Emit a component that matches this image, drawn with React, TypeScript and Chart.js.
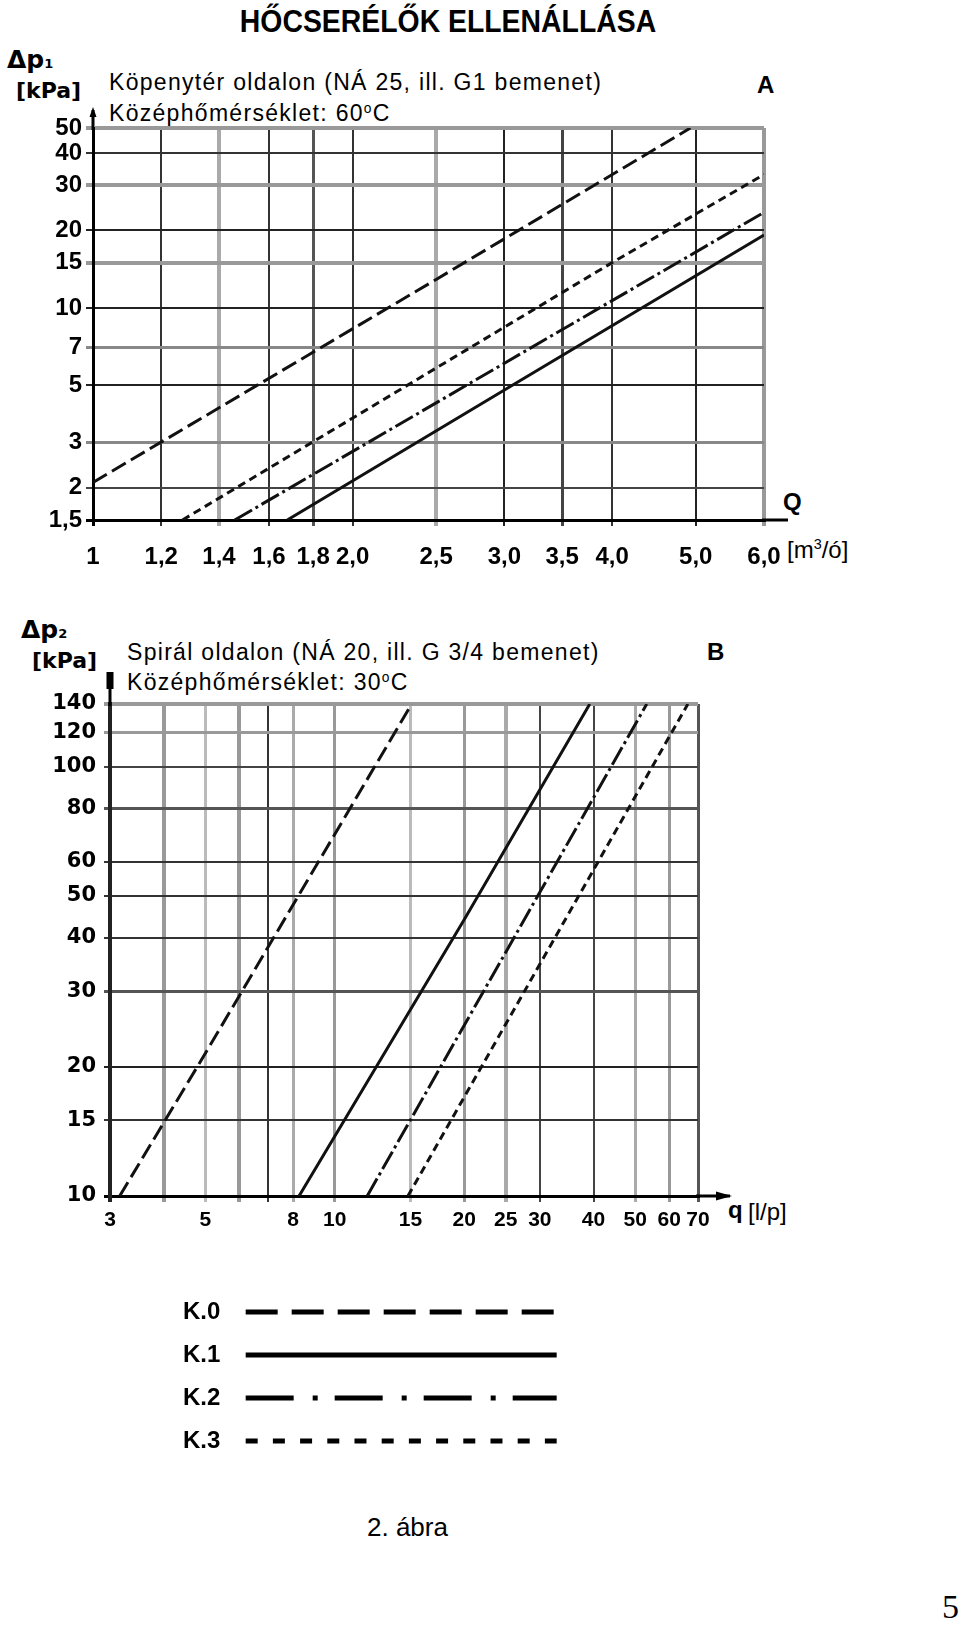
import React, { useEffect, useRef } from 'react';
import { Chart, registerables } from 'chart.js';

Chart.register(...registerables);

// ---------------- Data: chart A (Köpenytér oldalon) ----------------
const A_X_TICKS = [1, 1.2, 1.4, 1.6, 1.8, 2.0, 2.5, 3.0, 3.5, 4.0, 5.0, 6.0];
const A_X_LABELS = ['1', '1,2', '1,4', '1,6', '1,8', '2,0', '2,5', '3,0', '3,5', '4,0', '5,0', '6,0'];
const A_Y_TICKS = [1.5, 2, 3, 5, 7, 10, 15, 20, 30, 40, 50];
const A_Y_LABELS = ['1,5', '2', '3', '5', '7', '10', '15', '20', '30', '40', '50'];

const A_K0_Q = [1.0, 2.5, 4.93];
const A_K0_DP = [2.1, 12.9, 50];
const A_K3_Q = [1.27, 4.0, 6.0];
const A_K3_DP = [1.5, 15, 33];
const A_K2_Q = [1.46, 3.0, 6.0];
const A_K2_DP = [1.5, 6.1, 23.5];
const A_K1_Q = [1.68, 3.0, 6.0];
const A_K1_DP = [1.5, 4.8, 19.2];

// ---------------- Data: chart B (Spirál oldalon) ----------------
const B_X_TICKS = [3, 4, 5, 6, 7, 8, 10, 15, 20, 25, 30, 40, 50, 60, 70];
const B_X_LABELS = ['3', '', '5', '', '', '8', '10', '15', '20', '25', '30', '40', '50', '60', '70'];
const B_Y_TICKS = [10, 15, 20, 30, 40, 50, 60, 80, 100, 120, 140];
const B_Y_LABELS = ['10', '15', '20', '30', '40', '50', '60', '80', '100', '120', '140'];

const B_K0_Q = [3.16, 5.0, 15.1];
const B_K0_DP = [10, 21.5, 140];
const B_K1_Q = [8.26, 20, 39.2];
const B_K1_DP = [10, 44, 140];
const B_K2_Q = [11.9, 30, 53.2];
const B_K2_DP = [10, 51, 140];
const B_K3_Q = [14.8, 40, 66.3];
const B_K3_DP = [10, 57.5, 140];

const SERIES = ['K.0', 'K.1', 'K.2', 'K.3'];

// ---------------- Styles ----------------
const FONT_SANS = "'Liberation Sans', Arial, sans-serif";
const FONT_WIDE = "'DejaVu Sans', 'Liberation Sans', sans-serif";
const FONT_SERIF = "'Liberation Serif', 'DejaVu Serif', serif";

const DASH: Record<string, number[]> = {
  'K.0': [16, 6],
  'K.1': [],
  'K.2': [20, 4, 3, 4],
  'K.3': [8, 5],
};
const LEGEND_DASH: Record<string, number[]> = {
  'K.0': [32, 14],
  'K.1': [],
  'K.2': [48, 19, 5, 17],
  'K.3': [12, 15.2],
};

const A_XGRID_COLOR = ['#000', '#333', '#aaa', '#333', '#555', '#333', '#aaa', '#222', '#444', '#333', '#222', '#999'];
const A_XGRID_WIDTH = [3, 2, 4, 2, 3, 2, 4, 2, 3, 2, 2, 4];
const A_YGRID_COLOR = ['#000', '#444', '#888', '#222', '#888', '#222', '#999', '#222', '#999', '#333', '#999'];
const A_YGRID_WIDTH = [3, 2, 3, 2, 3, 2, 4, 2, 4, 2, 4];
const B_XGRID_COLOR = ['#222', '#999', '#bbb', '#999', '#333', '#aaa', '#999', '#bbb', '#999', '#aaa', '#444', '#444', '#aaa', '#999', '#555'];
const B_XGRID_WIDTH = [4, 4, 3, 4, 2, 3, 3, 3, 3, 4, 2, 2, 3, 3, 3];
const B_YGRID_COLOR = ['#000', '#333', '#222', '#555', '#333', '#333', '#333', '#555', '#444', '#999', '#999'];
const B_YGRID_WIDTH = [3, 2, 2, 3, 2, 2, 2, 3, 2, 3, 4];

function pts(xs: number[], ys: number[]) {
  return xs.map((x, i) => ({ x, y: ys[i] }));
}

function line(label: string, xs: number[], ys: number[]) {
  return {
    label,
    data: pts(xs, ys),
    showLine: true,
    borderColor: '#111',
    backgroundColor: '#111',
    borderWidth: 3,
    borderDash: DASH[label],
    pointRadius: 0,
    tension: 0,
  };
}

function logAxis(o: any) {
  return {
    type: 'logarithmic',
    position: o.position,
    min: o.min,
    max: o.max,
    afterBuildTicks: (s: any) => {
      s.ticks = o.ticks.map((v: number) => ({ value: v }));
    },
    afterFit: (s: any) => {
      if (o.position === 'bottom') s.height = o.size;
      else s.width = o.size;
    },
    ticks: {
      autoSkip: false,
      maxRotation: 0,
      minRotation: 0,
      padding: o.padding,
      color: '#000',
      font: o.font,
      callback: (_v: any, i: number) => o.labels[i],
    },
    grid: {
      color: (c: any) => o.colors[c.index] ?? '#333',
      lineWidth: (c: any) => o.widths[c.index] ?? 2,
      tickLength: o.tickLength,
      drawTicks: true,
    },
    border: { display: true, color: o.borderColor, width: o.borderWidth },
  };
}

function makeArrows(o: { lw: number; up: number; head: 'tri' | 'block'; right: number; rightHead: boolean }) {
  return {
    id: 'axisArrows',
    afterDraw(chart: any) {
      const { ctx, chartArea } = chart;
      const { left, top, right, bottom } = chartArea;
      ctx.save();
      ctx.strokeStyle = '#000';
      ctx.fillStyle = '#000';
      ctx.lineWidth = o.lw;
      ctx.beginPath();
      ctx.moveTo(left, top + 2);
      ctx.lineTo(left, top - o.up);
      ctx.moveTo(right - 2, bottom);
      ctx.lineTo(right + o.right, bottom);
      ctx.stroke();
      if (o.head === 'tri') {
        ctx.beginPath();
        ctx.moveTo(left, top - o.up - 3);
        ctx.lineTo(left - 3.5, top - o.up + 7);
        ctx.lineTo(left + 3.5, top - o.up + 7);
        ctx.closePath();
        ctx.fill();
      } else {
        ctx.fillRect(left - 3.5, top - o.up, 7, 17);
      }
      if (o.rightHead) {
        const tx = right + o.right + 2;
        ctx.beginPath();
        ctx.moveTo(tx, bottom);
        ctx.lineTo(tx - 16, bottom - 4.5);
        ctx.lineTo(tx - 16, bottom + 4.5);
        ctx.closePath();
        ctx.fill();
      }
      ctx.restore();
    },
  };
}

function T(props: { x: number; y: number; size: number; family: string; weight?: any; ls?: number; w?: number; align?: any; sx?: number; children: any }) {
  const { x, y, size, family, weight, ls, w, align, sx, children } = props;
  return (
    <div
      style={{
        position: 'absolute',
        left: x,
        top: y - size / 2,
        width: w,
        height: size,
        lineHeight: size + 'px',
        fontSize: size,
        fontFamily: family,
        fontWeight: weight ?? 'normal',
        letterSpacing: ls ? ls + 'px' : undefined,
        textAlign: align ?? 'left',
        whiteSpace: 'nowrap',
        color: '#000',
        transform: sx ? `scaleX(${sx})` : undefined,
        transformOrigin: 'center center',
      }}
    >
      {children}
    </div>
  );
}

const supStyle: any = { fontSize: '0.6em', verticalAlign: '0.6em', lineHeight: 0 };

export default function App() {
  const aRef = useRef<HTMLCanvasElement>(null);
  const bRef = useRef<HTMLCanvasElement>(null);
  const lRef = useRef<HTMLCanvasElement>(null);

  useEffect(() => {
    const charts: Chart[] = [];

    const cfgA: any = {
      type: 'scatter',
      data: {
        datasets: [
          line('K.0', A_K0_Q, A_K0_DP),
          line('K.3', A_K3_Q, A_K3_DP),
          line('K.2', A_K2_Q, A_K2_DP),
          line('K.1', A_K1_Q, A_K1_DP),
        ],
      },
      options: {
        responsive: false,
        animation: false,
        events: [],
        layout: { padding: { top: 28, right: 96, bottom: 0, left: 0 } },
        plugins: { legend: { display: false }, tooltip: { enabled: false } },
        scales: {
          x: logAxis({
            position: 'bottom', min: 1, max: 6, ticks: A_X_TICKS, labels: A_X_LABELS, size: 60,
            padding: 17, tickLength: 6,
            font: { family: FONT_SANS, size: 24, weight: 'bold' },
            colors: A_XGRID_COLOR, widths: A_XGRID_WIDTH, borderColor: '#000', borderWidth: 3,
          }),
          y: logAxis({
            position: 'left', min: 1.5, max: 50, ticks: A_Y_TICKS, labels: A_Y_LABELS, size: 93,
            padding: 4, tickLength: 7,
            font: { family: FONT_SANS, size: 24, weight: 'bold' },
            colors: A_YGRID_COLOR, widths: A_YGRID_WIDTH, borderColor: '#000', borderWidth: 3,
          }),
        },
      },
      plugins: [makeArrows({ lw: 3, up: 18, head: 'tri', right: 24, rightHead: false })],
    };

    const cfgB: any = {
      type: 'scatter',
      data: {
        datasets: [
          line('K.0', B_K0_Q, B_K0_DP),
          line('K.1', B_K1_Q, B_K1_DP),
          line('K.2', B_K2_Q, B_K2_DP),
          line('K.3', B_K3_Q, B_K3_DP),
        ],
      },
      options: {
        responsive: false,
        animation: false,
        events: [],
        layout: { padding: { top: 64, right: 102, bottom: 0, left: 0 } },
        plugins: { legend: { display: false }, tooltip: { enabled: false } },
        scales: {
          x: logAxis({
            position: 'bottom', min: 3, max: 70, ticks: B_X_TICKS, labels: B_X_LABELS, size: 44,
            padding: 6, tickLength: 6,
            font: { family: FONT_SANS, size: 21, weight: 'bold' },
            colors: B_XGRID_COLOR, widths: B_XGRID_WIDTH, borderColor: '#000', borderWidth: 3,
          }),
          y: logAxis({
            position: 'left', min: 10, max: 140, ticks: B_Y_TICKS, labels: B_Y_LABELS, size: 110,
            padding: 8, tickLength: 6,
            font: { family: FONT_WIDE, size: 21, weight: 'bold' },
            colors: B_YGRID_COLOR, widths: B_YGRID_WIDTH, borderColor: '#222', borderWidth: 4,
          }),
        },
      },
      plugins: [makeArrows({ lw: 3, up: 32, head: 'block', right: 32, rightHead: true })],
    };

    const cfgL: any = {
      type: 'line',
      data: {
        datasets: SERIES.map((s) => ({
          label: s,
          data: [],
          borderColor: '#000',
          backgroundColor: '#000',
          borderWidth: 5,
          borderDash: LEGEND_DASH[s],
        })),
      },
      options: {
        responsive: false,
        animation: false,
        events: [],
        scales: { x: { display: false }, y: { display: false } },
        plugins: {
          tooltip: { enabled: false },
          legend: {
            display: true,
            position: 'left',
            align: 'start',
            rtl: true,
            textDirection: 'ltr',
            labels: {
              usePointStyle: true,
              pointStyle: 'line',
              pointStyleWidth: 311,
              padding: 19,
              color: '#000',
              font: { family: FONT_SANS, size: 24, weight: 'bold' },
              generateLabels: (chart: any) =>
                (Chart.defaults.plugins.legend.labels.generateLabels as any)(chart).map((l: any) => {
                  const name = chart.data.datasets[l.datasetIndex].label;
                  return {
                    ...l,
                    text: name + '  ',
                    lineDash: LEGEND_DASH[name],
                    lineWidth: 5,
                    strokeStyle: '#000',
                    lineCap: 'butt',
                  };
                }),
            },
          },
        },
      },
    };

    if (aRef.current) charts.push(new Chart(aRef.current, cfgA));
    if (bRef.current) charts.push(new Chart(bRef.current, cfgB));
    if (lRef.current) charts.push(new Chart(lRef.current, cfgL));
    return () => charts.forEach((c) => c.destroy());
  }, []);

  return (
    <div style={{ position: 'absolute', left: 0, top: 0, width: 960, height: 1629, overflow: 'hidden', background: '#fff' }}>
      <T x={148} w={600} y={21} size={32} family={FONT_SANS} weight="bold" align="center" sx={0.887}>HŐCSERÉLŐK ELLENÁLLÁSA</T>

      {/* Chart A texts */}
      <T x={7} y={59} size={25} family={FONT_WIDE} weight="bold">Δp<span style={{ fontSize: 13 }}>1</span></T>
      <T x={16} y={91} size={22} family={FONT_WIDE} weight="bold">[kPa]</T>
      <T x={109} y={82} size={23} family={FONT_SANS} ls={1.3}>Köpenytér oldalon (NÁ 25, ill. G1 bemenet)</T>
      <T x={109} y={113} size={23} family={FONT_SANS} ls={1.3}>Középhőmérséklet: 60<span style={supStyle}>o</span>C</T>
      <T x={757} y={85} size={24} family={FONT_SANS} weight="bold">A</T>
      <T x={783} y={502} size={24} family={FONT_SANS} weight="bold">Q</T>
      <T x={787} y={550} size={24} family={FONT_SANS}>[m<span style={supStyle}>3</span>/ó]</T>
      <canvas ref={aRef} width={860} height={480} style={{ position: 'absolute', left: 0, top: 100, width: 860, height: 480 }} />

      {/* Chart B texts */}
      <T x={21} y={629} size={25} family={FONT_WIDE} weight="bold">Δp<span style={{ fontSize: 13 }}>2</span></T>
      <T x={32} y={661} size={22} family={FONT_WIDE} weight="bold">[kPa]</T>
      <T x={127} y={652} size={23} family={FONT_SANS} ls={1.3}>Spirál oldalon (NÁ 20, ill. G 3/4 bemenet)</T>
      <T x={127} y={682} size={23} family={FONT_SANS} ls={1.3}>Középhőmérséklet: 30<span style={supStyle}>o</span>C</T>
      <T x={707} y={652} size={24} family={FONT_SANS} weight="bold">B</T>
      <T x={728} y={1210} size={24} family={FONT_SANS} weight="bold">q</T>
      <T x={748} y={1212} size={24} family={FONT_SANS}>[l/p]</T>
      <canvas ref={bRef} width={800} height={600} style={{ position: 'absolute', left: 0, top: 640, width: 800, height: 600 }} />

      {/* Legend */}
      <canvas ref={lRef} width={840} height={200} style={{ position: 'absolute', left: 173, top: 1281, width: 840, height: 200 }} />

      <T x={367} y={1527} size={26} family={FONT_SANS}>2. ábra</T>
      <T x={942} y={1607} size={34} family={FONT_SERIF}>5</T>
    </div>
  );
}
